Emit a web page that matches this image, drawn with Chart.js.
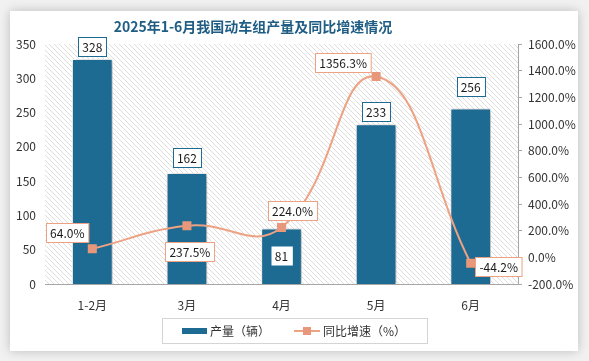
<!DOCTYPE html>
<html>
<head>
<meta charset="utf-8">
<script src="https://cdn.jsdelivr.net/npm/chart.js"></script>
<style>
  html, body { margin: 0; padding: 0; background: #f3f3f3; }
  #wrap { width: 589px; height: 361px; }
</style>
</head>
<body>
<div id="wrap"><canvas id="c" width="589" height="361"></canvas></div>
<script>
// ─── DATA ─────────────────────────────────────────────────────────────
const categories = ['1-2月', '3月', '4月', '5月', '6月'];
const output = [328, 162, 81, 233, 256];            // 产量（辆）
const growth = [64.0, 237.5, 224.0, 1356.3, -44.2]; // 同比增速（%）
const leftTicks = [0, 50, 100, 150, 200, 250, 300, 350];
const rightTicks = [-200, 0, 200, 400, 600, 800, 1000, 1200, 1400, 1600];

const TITLE = '2025年1-6月我国动车组产量及同比增速情况';
const BAR = '#1d6a92';
const LINE = '#eda283';
const MARK = '#e8987a';
const FONT = '"Noto Sans CJK SC", "Noto Sans", sans-serif';

// label placement relative to the drawn element (dx, dy)
const barLabelPos = [[0, -13], [0, -15], [0, 27], [0, -13], [0, -22]];
const lineLabelPos = [[-25, -16], [3, 26], [11, -17], [-33, -14], [28, 3]];

// ─── HELPERS ──────────────────────────────────────────────────────────
function hatch() {
  const c = document.createElement('canvas');
  c.width = 5; c.height = 5;
  const g = c.getContext('2d');
  g.fillStyle = '#ffffff'; g.fillRect(0, 0, 5, 5);
  g.strokeStyle = '#d6d6d6'; g.lineWidth = 0.8;
  g.beginPath();
  g.moveTo(0, 0); g.lineTo(5, 5);
  g.moveTo(-1, 4); g.lineTo(1, 6);
  g.moveTo(4, -1); g.lineTo(6, 1);
  g.stroke();
  return c;
}

function box(ctx, txt, cx, cy, border) {
  ctx.font = '12px ' + FONT;
  const w = ctx.measureText(txt).width + 8, h = 19;
  const x = Math.round(cx - w / 2) + 0.5, y = Math.round(cy - h / 2) + 0.5;
  ctx.fillStyle = '#ffffff';
  ctx.fillRect(x, y, w, h);
  if (border) {
    ctx.strokeStyle = border; ctx.lineWidth = 1;
    ctx.strokeRect(x, y, w, h);
  }
  ctx.fillStyle = '#1a1a1a';
  ctx.textAlign = 'center'; ctx.textBaseline = 'middle';
  ctx.fillText(txt, cx, cy + 1);
}

const decor = {
  id: 'decor',
  beforeDraw(chart) {
    const { ctx, width, height, chartArea: a } = chart;
    ctx.save();
    ctx.fillStyle = '#f1f1f1';
    ctx.fillRect(0, 0, width, height);
    ctx.shadowColor = 'rgba(0,0,0,0.22)';
    ctx.shadowBlur = 10;
    ctx.fillStyle = '#ffffff';
    ctx.fillRect(10, 11, 568, 340);
    ctx.restore();
    ctx.save();
    ctx.fillStyle = ctx.createPattern(hatch(), 'repeat');
    ctx.fillRect(a.left, a.top, a.right - a.left, a.bottom - a.top);
    ctx.restore();
    // title
    ctx.save();
    ctx.font = 'bold 14px ' + FONT;
    ctx.fillStyle = '#1f5d84';
    ctx.textAlign = 'center'; ctx.textBaseline = 'middle';
    ctx.fillText(TITLE, 253, 27);
    ctx.restore();
  },
  beforeDatasetDraw(chart, args) {
    if (args.index !== 0) return;
    const ctx = chart.ctx;
    ctx.save();
    ctx.shadowColor = 'rgba(0,0,0,0.35)';
    ctx.shadowBlur = 6;
    ctx.shadowOffsetX = 2;
    ctx.shadowOffsetY = 1;
  },
  afterDatasetDraw(chart, args) {
    if (args.index === 0) chart.ctx.restore();
  },
  afterDraw(chart) {
    const ctx = chart.ctx;
    ctx.save();
    const bars = chart.getDatasetMeta(0).data;
    bars.forEach((el, i) => {
      const p = barLabelPos[i];
      box(ctx, String(output[i]), el.x + p[0], el.y + p[1], i === 2 ? null : BAR);
    });
    const pts = chart.getDatasetMeta(1).data;
    pts.forEach((el, i) => {
      const p = lineLabelPos[i];
      box(ctx, growth[i].toFixed(1) + '%', el.x + p[0], el.y + p[1], LINE);
    });
    // legend
    ctx.strokeStyle = '#d4d4d4'; ctx.lineWidth = 1;
    ctx.strokeRect(162.5, 318.5, 265, 25);
    ctx.fillStyle = BAR;
    ctx.fillRect(182, 328, 25, 6);
    ctx.strokeStyle = LINE; ctx.lineWidth = 2;
    ctx.beginPath(); ctx.moveTo(294, 331); ctx.lineTo(320, 331); ctx.stroke();
    ctx.fillStyle = MARK;
    ctx.fillRect(303, 327, 8, 8);
    ctx.font = '12px ' + FONT;
    ctx.fillStyle = '#333333';
    ctx.textAlign = 'left'; ctx.textBaseline = 'middle';
    ctx.fillText('产量（辆）', 210, 331);
    ctx.fillText('同比增速（%）', 323, 331);
    ctx.restore();
  }
};

// ─── CHART ────────────────────────────────────────────────────────────
new Chart(document.getElementById('c'), {
  data: {
    labels: categories,
    datasets: [
      {
        type: 'bar', label: '产量（辆）', data: output, yAxisID: 'y',
        backgroundColor: BAR, borderColor: '#ffffff', borderWidth: 1,
        barPercentage: 0.86, categoryPercentage: 0.5, order: 2
      },
      {
        type: 'line', label: '同比增速（%）', data: growth, yAxisID: 'y1',
        borderColor: LINE, borderWidth: 2, tension: 0.45,
        pointStyle: 'rect', pointRadius: 5, pointBackgroundColor: MARK,
        pointBorderColor: MARK, order: 1
      }
    ]
  },
  options: {
    responsive: false,
    animation: false,
    devicePixelRatio: 1,
    layout: { padding: { left: 10, right: 6, top: 44, bottom: 47 } },
    plugins: { legend: { display: false }, tooltip: { enabled: false } },
    scales: {
      x: {
        grid: { display: false },
        border: { display: true, color: '#a6a6a6' },
        ticks: { color: '#333333', font: { size: 12, family: FONT }, padding: 6 },
        afterFit(s) { s.height = 30; }
      },
      y: {
        position: 'left', min: leftTicks[0], max: leftTicks[leftTicks.length - 1],
        grid: { display: false, drawTicks: false }, border: { display: false },
        afterBuildTicks(s) { s.ticks = leftTicks.map(v => ({ value: v })); },
        ticks: { color: '#333333', font: { size: 12, family: FONT }, padding: 9 },
        afterFit(s) { s.width = 35; }
      },
      y1: {
        position: 'right', min: rightTicks[0], max: rightTicks[rightTicks.length - 1],
        grid: { display: true, drawOnChartArea: false, drawTicks: true, tickLength: 4, color: '#a6a6a6' },
        border: { display: true, color: '#a6a6a6' },
        afterBuildTicks(s) { s.ticks = rightTicks.map(v => ({ value: v })); },
        ticks: {
          color: '#333333', font: { size: 12, family: FONT }, padding: 6,
          callback: v => v.toFixed(1) + '%'
        },
        afterFit(s) { s.width = 65; }
      }
    }
  },
  plugins: [decor]
});
</script>
</body>
</html>
